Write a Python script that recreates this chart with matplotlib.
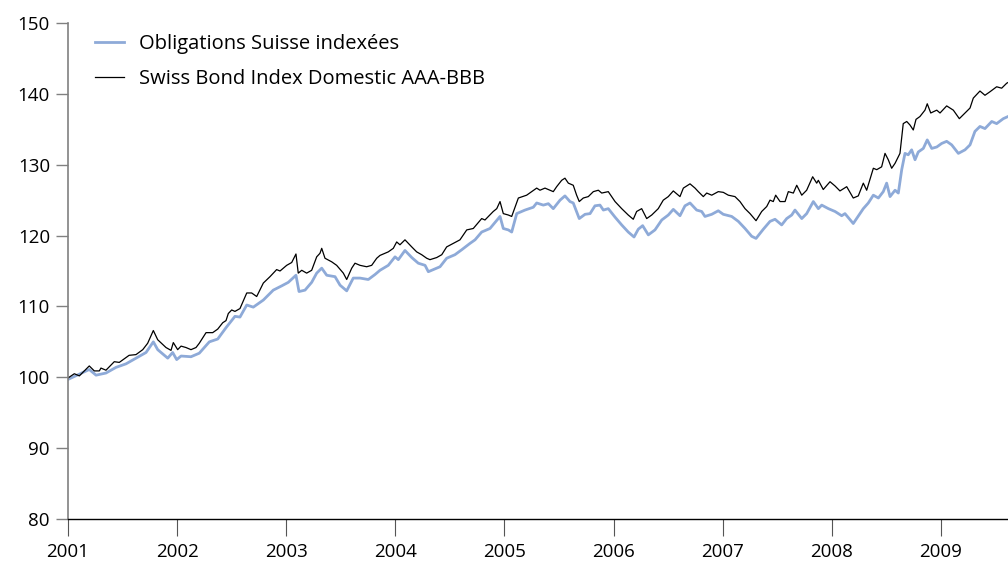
import matplotlib
matplotlib.use('Agg')
import matplotlib.pyplot as plt

# Swiss Bond Index Domestic AAA-BBB (black line), years as decimal
sbi_years = [2001.000, 2001.058, 2001.104, 2001.195, 2001.241, 2001.287, 2001.302, 2001.348,
             2001.424, 2001.470, 2001.560, 2001.623, 2001.685, 2001.730, 2001.782, 2001.822,
             2001.898, 2001.944, 2001.965, 2002.005, 2002.036, 2002.081, 2002.127, 2002.173,
             2002.203, 2002.265, 2002.326, 2002.372, 2002.418, 2002.448, 2002.469, 2002.500,
             2002.530, 2002.576, 2002.638, 2002.683, 2002.729, 2002.790, 2002.851, 2002.912,
             2002.943, 2003.004, 2003.050, 2003.089, 2003.110, 2003.142, 2003.187, 2003.233,
             2003.279, 2003.309, 2003.325, 2003.355, 2003.416, 2003.462, 2003.523, 2003.554,
             2003.600, 2003.630, 2003.676, 2003.737, 2003.783, 2003.829, 2003.859, 2003.935,
             2003.981, 2004.012, 2004.042, 2004.088, 2004.150, 2004.195, 2004.241, 2004.287,
             2004.317, 2004.379, 2004.425, 2004.470, 2004.531, 2004.592, 2004.654, 2004.714,
             2004.791, 2004.821, 2004.897, 2004.929, 2004.959, 2004.989, 2005.035, 2005.066,
             2005.127, 2005.203, 2005.295, 2005.325, 2005.371, 2005.417, 2005.447, 2005.478,
             2005.524, 2005.554, 2005.585, 2005.630, 2005.661, 2005.685, 2005.722, 2005.768,
             2005.814, 2005.860, 2005.891, 2005.951, 2006.013, 2006.074, 2006.134, 2006.180,
             2006.211, 2006.257, 2006.303, 2006.349, 2006.409, 2006.455, 2006.501, 2006.547,
             2006.608, 2006.639, 2006.700, 2006.746, 2006.776, 2006.822, 2006.853, 2006.899,
             2006.959, 2007.005, 2007.051, 2007.112, 2007.158, 2007.204, 2007.250, 2007.305,
             2007.357, 2007.403, 2007.433, 2007.463, 2007.485, 2007.525, 2007.571, 2007.601,
             2007.647, 2007.678, 2007.724, 2007.769, 2007.824, 2007.861, 2007.876, 2007.921,
             2007.983, 2008.029, 2008.074, 2008.136, 2008.196, 2008.242, 2008.288, 2008.319,
             2008.380, 2008.411, 2008.456, 2008.487, 2008.517, 2008.548, 2008.579, 2008.624,
             2008.654, 2008.686, 2008.716, 2008.746, 2008.771, 2008.807, 2008.853, 2008.874,
             2008.906, 2008.961, 2008.991, 2009.052, 2009.113, 2009.168, 2009.220, 2009.266,
             2009.296, 2009.357, 2009.403, 2009.449, 2009.510, 2009.556, 2009.602, 2009.614]
sbi_values = [99.9, 100.5, 100.2, 101.6, 100.9, 100.9, 101.3, 101.0,
              102.2, 102.1, 103.1, 103.2, 103.9, 104.8, 106.6, 105.3,
              104.2, 103.8, 104.9, 103.9, 104.4, 104.2, 103.9, 104.2,
              104.8, 106.3, 106.3, 106.8, 107.7, 108.0, 109.0, 109.5,
              109.3, 109.7, 111.9, 111.9, 111.4, 113.3, 114.2, 115.2,
              115.0, 115.8, 116.2, 117.4, 114.7, 115.1, 114.7, 115.1,
              117.0, 117.5, 118.2, 116.8, 116.3, 115.8, 114.7, 113.8,
              115.4, 116.1, 115.8, 115.6, 115.8, 116.8, 117.2, 117.7,
              118.2, 119.1, 118.7, 119.4, 118.4, 117.7, 117.3, 116.8,
              116.6, 116.9, 117.3, 118.4, 118.9, 119.4, 120.8, 121.0,
              122.4, 122.2, 123.4, 123.8, 124.8, 123.1, 122.9, 122.7,
              125.3, 125.7, 126.7, 126.4, 126.7, 126.4, 126.2, 126.9,
              127.8, 128.1, 127.4, 127.1, 125.7, 124.8, 125.3, 125.5,
              126.2, 126.4, 126.0, 126.2, 124.8, 123.8, 122.9, 122.3,
              123.4, 123.8, 122.4, 122.9, 123.8, 125.0, 125.5, 126.3,
              125.5, 126.7, 127.3, 126.7, 126.2, 125.5, 126.0, 125.7,
              126.2, 126.1, 125.7, 125.5, 124.8, 123.8, 123.1, 122.1,
              123.4, 124.1, 125.0, 124.8, 125.7, 124.8, 124.8, 126.2,
              126.0, 127.1, 125.7, 126.4, 128.3, 127.4, 127.8, 126.5,
              127.6, 127.0, 126.3, 126.9, 125.3, 125.6, 127.4, 126.4,
              129.5, 129.3, 129.7, 131.6, 130.7, 129.5, 130.2, 131.6,
              135.8, 136.1, 135.6, 134.9, 136.4, 136.8, 137.7, 138.6,
              137.3, 137.7, 137.3, 138.3, 137.7, 136.5, 137.3, 138.0,
              139.4, 140.4, 139.8, 140.3, 141.0, 140.8, 141.5, 141.6]

# Obligations Suisse indexees (blue line)
obl_years = [2001.000, 2001.195, 2001.257, 2001.348, 2001.440, 2001.532, 2001.623, 2001.715,
             2001.782, 2001.822, 2001.914, 2001.959, 2001.996, 2002.036, 2002.127, 2002.203,
             2002.295, 2002.372, 2002.448, 2002.530, 2002.576, 2002.638, 2002.698, 2002.790,
             2002.881, 2002.958, 2003.019, 2003.089, 2003.117, 2003.172, 2003.233, 2003.279,
             2003.325, 2003.371, 2003.447, 2003.493, 2003.554, 2003.614, 2003.676, 2003.752,
             2003.813, 2003.859, 2003.935, 2003.997, 2004.027, 2004.088, 2004.150, 2004.210,
             2004.272, 2004.302, 2004.348, 2004.409, 2004.470, 2004.546, 2004.608, 2004.684,
             2004.730, 2004.791, 2004.867, 2004.959, 2004.989, 2005.035, 2005.066, 2005.112,
             2005.188, 2005.264, 2005.295, 2005.356, 2005.402, 2005.447, 2005.509, 2005.554,
             2005.600, 2005.630, 2005.685, 2005.738, 2005.784, 2005.829, 2005.875, 2005.906,
             2005.951, 2006.013, 2006.074, 2006.134, 2006.187, 2006.226, 2006.266, 2006.318,
             2006.379, 2006.441, 2006.501, 2006.547, 2006.608, 2006.654, 2006.700, 2006.761,
             2006.807, 2006.837, 2006.899, 2006.959, 2007.005, 2007.082, 2007.143, 2007.204,
             2007.265, 2007.305, 2007.372, 2007.433, 2007.479, 2007.540, 2007.586, 2007.632,
             2007.662, 2007.724, 2007.769, 2007.830, 2007.876, 2007.907, 2007.968, 2008.029,
             2008.090, 2008.120, 2008.196, 2008.288, 2008.334, 2008.380, 2008.426, 2008.471,
             2008.502, 2008.533, 2008.579, 2008.609, 2008.640, 2008.670, 2008.700, 2008.731,
             2008.762, 2008.792, 2008.838, 2008.874, 2008.915, 2008.961, 2009.006, 2009.052,
             2009.098, 2009.159, 2009.220, 2009.266, 2009.311, 2009.357, 2009.403, 2009.465,
             2009.510, 2009.571, 2009.614]
obl_values = [99.7, 101.1, 100.3, 100.6, 101.4, 101.9, 102.7, 103.5,
              105.0, 103.9, 102.7, 103.5, 102.5, 103.0, 102.9, 103.4,
              105.0, 105.4, 107.0, 108.6, 108.5, 110.2, 109.9, 110.9,
              112.3, 112.9, 113.4, 114.4, 112.1, 112.3, 113.4, 114.7,
              115.4, 114.4, 114.2, 113.0, 112.2, 114.0, 114.0, 113.8,
              114.5, 115.1, 115.8, 117.0, 116.6, 117.9, 116.9, 116.1,
              115.8, 114.9, 115.2, 115.6, 116.8, 117.3, 118.0, 118.9,
              119.4, 120.5, 121.0, 122.7, 121.0, 120.8, 120.5, 123.1,
              123.6, 124.0, 124.6, 124.3, 124.5, 123.8, 125.0, 125.6,
              124.8, 124.6, 122.4, 123.0, 123.1, 124.2, 124.3, 123.6,
              123.8, 122.6, 121.5, 120.5, 119.8, 120.9, 121.4, 120.1,
              120.8, 122.2, 122.9, 123.7, 122.8, 124.2, 124.6, 123.6,
              123.4, 122.7, 123.0, 123.5, 123.0, 122.7, 122.0, 121.0,
              119.9, 119.6, 120.9, 122.0, 122.3, 121.5, 122.4, 122.9,
              123.6, 122.4, 123.1, 124.8, 123.8, 124.3, 123.8, 123.4,
              122.8, 123.1, 121.7, 123.8, 124.6, 125.7, 125.3, 126.2,
              127.4, 125.5, 126.4, 126.0, 129.3, 131.6, 131.4, 132.1,
              130.7, 131.8, 132.3, 133.5, 132.3, 132.5, 133.0, 133.3,
              132.8, 131.6, 132.1, 132.8, 134.7, 135.4, 135.1, 136.1,
              135.8, 136.5, 136.8]

year_ticks = [2001, 2002, 2003, 2004, 2005, 2006, 2007, 2008, 2009]
value_ticks = [80, 90, 100, 110, 120, 130, 140, 150]

plt.rcParams['font.family'] = ['Open Sans', 'DejaVu Sans']
plt.rcParams['font.size'] = 13

fig = plt.figure(figsize=(10.08, 5.62), dpi=100)
ax = fig.add_axes([68 / 1008, 43 / 562, 940 / 1008, 496 / 562])

ax.plot(obl_years, obl_values, color='#8eaad8', lw=2.0, label='Obligations Suisse indexées')
ax.plot(sbi_years, sbi_values, color='black', lw=0.9, label='Swiss Bond Index Domestic AAA-BBB')

ax.set_xlim(2001, 2009.614)
ax.set_ylim(80, 150)
ax.set_xticks(year_ticks)
ax.set_xticklabels([str(y) for y in year_ticks])
ax.set_yticks(value_ticks)

for s in ['top', 'right']:
    ax.spines[s].set_visible(False)
ax.spines['left'].set_color('#808080')
ax.spines['left'].set_linewidth(1.2)
ax.spines['bottom'].set_color('black')
ax.spines['bottom'].set_linewidth(1.0)
ax.tick_params(axis='y', length=9, width=1.0, color='#808080', pad=4, labelsize=13.5)
ax.tick_params(axis='x', length=12, width=0.8, color='#555555', pad=5, labelsize=13.5)

leg = ax.legend(loc='upper left', bbox_to_anchor=(95 / 1008, 1 - 34 / 562),
                bbox_transform=fig.transFigure, frameon=False, fontsize=14.5,
                handlelength=1.45, handletextpad=0.75, labelspacing=0.75,
                borderpad=0, borderaxespad=0)

fig.savefig('out.png', dpi=100)
